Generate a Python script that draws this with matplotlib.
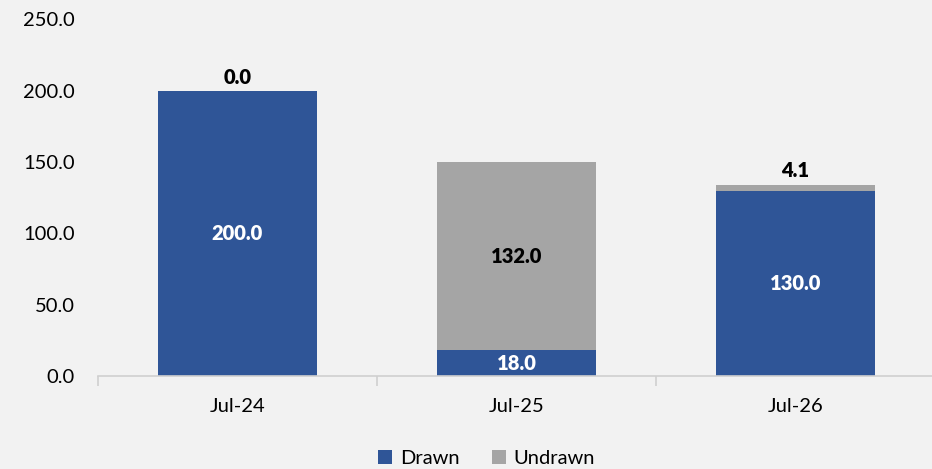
import matplotlib
matplotlib.use("Agg")
import matplotlib.pyplot as plt
import numpy as np

categories = ["Jul-24", "Jul-25", "Jul-26"]
drawn = [200.0, 18.0, 130.0]
undrawn = [0.0, 132.0, 4.1]
yticks = [0, 50, 100, 150, 200, 250]

blue = "#2F5597"
gray = "#A5A5A5"
bg = "#F2F2F2"

plt.rcParams['font.family'] = ['Lato', 'DejaVu Sans']
fs = 14.5

fig = plt.figure(figsize=(9.32, 4.69), dpi=100, facecolor=bg)
ax = fig.add_axes([98/932, 93/469, 837/932, 356.5/469], facecolor=bg)

x = np.arange(len(categories))
w = 0.57
ax.bar(x, drawn, w, color=blue, label="Drawn", zorder=2)
ax.bar(x, undrawn, w, bottom=drawn, color=gray, label="Undrawn", zorder=2)

for i in range(len(categories)):
    d, u = drawn[i], undrawn[i]
    ax.text(x[i], d / 2, f"{d:.1f}", ha="center", va="center", color="white",
            fontsize=fs, fontweight="heavy", zorder=3)
    if u >= 20:
        ax.text(x[i], d + u / 2, f"{u:.1f}", ha="center", va="center", color="black",
                fontsize=fs, fontweight="heavy", zorder=3)
    else:
        ax.text(x[i], d + u + 3, f"{u:.1f}", ha="center", va="bottom", color="black",
                fontsize=fs, fontweight="heavy", zorder=3)

ax.set_xlim(-0.5, 2.5)
ax.set_ylim(0, 250)
ax.set_yticks(yticks)
ax.set_yticklabels([f"{v:.1f}" for v in yticks], fontsize=fs)
ax.tick_params(axis="y", length=0, pad=16.5)

ax.set_xticks(x)
ax.set_xticklabels(categories, fontsize=fs)
ax.set_xticks([-0.5, 0.5, 1.5, 2.5], minor=True)
ax.tick_params(axis="x", which="major", length=0, pad=16)
ax.tick_params(axis="x", which="minor", length=7, color="#D0D0D0", width=1.2)

for s in ["top", "right", "left"]:
    ax.spines[s].set_visible(False)
ax.spines["bottom"].set_color("#D0D0D0")
ax.spines["bottom"].set_linewidth(1.2)

leg = fig.legend(loc="lower center", bbox_to_anchor=(0.522, -0.035), ncol=2, frameon=False,
                 fontsize=fs, handlelength=0.7, handleheight=0.7, handletextpad=0.4,
                 columnspacing=1.6)

fig.savefig("out.png", dpi=100, facecolor=bg)
